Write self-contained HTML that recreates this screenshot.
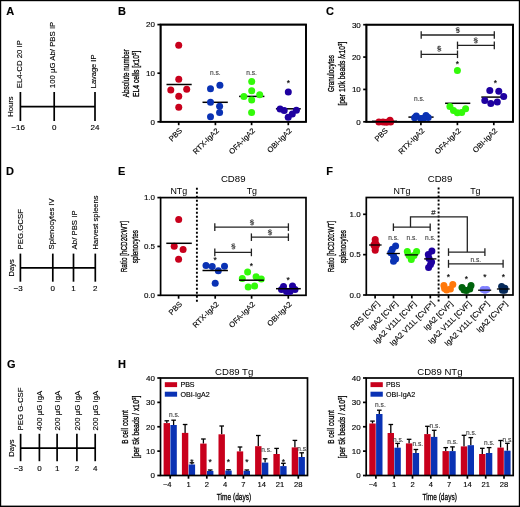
<!DOCTYPE html>
<html><head><meta charset="utf-8"><style>
html,body{margin:0;padding:0;background:#fff;}
body{width:520px;height:507px;overflow:hidden;}
svg{display:block;font-family:"Liberation Sans", sans-serif;will-change:transform;}
text{stroke-width:0.14px;}
text.yl{stroke-width:0.3px;}
text.tt{stroke-width:0;}
</style></head><body>
<svg width="520" height="507" viewBox="0 0 520 507">
<rect x="0" y="0" width="520" height="507" fill="#fff"/>
<rect x="0" y="0" width="520" height="1.2" fill="#000"/>
<rect x="0" y="0" width="1.2" height="507" fill="#000"/>
<rect x="518.8" y="0" width="1.2" height="507" fill="#000"/>
<rect x="0" y="505.6" width="520" height="1.4" fill="#000"/>
<text transform="translate(6.2,14.8)" font-size="11" text-anchor="start" font-weight="bold" fill="#000" stroke="#000">A</text>
<line x1="20.4" y1="106.6" x2="95" y2="106.6" stroke="#000" stroke-width="1.7"/>
<line x1="20.4" y1="92" x2="20.4" y2="121" stroke="#000" stroke-width="1.7"/>
<line x1="54.2" y1="92" x2="54.2" y2="121" stroke="#000" stroke-width="1.7"/>
<line x1="95" y1="92" x2="95" y2="121" stroke="#000" stroke-width="1.7"/>
<text transform="translate(20.4,129.6)" font-size="8" text-anchor="middle" font-weight="normal" fill="#000" stroke="#000">16</text>
<text transform="translate(16.15,129.6)" font-size="8" text-anchor="end" font-weight="normal" fill="#000" stroke="#000">−</text>
<text transform="translate(54.2,129.6)" font-size="8" text-anchor="middle" font-weight="normal" fill="#000" stroke="#000">0</text>
<text transform="translate(95,129.6)" font-size="8" text-anchor="middle" font-weight="normal" fill="#000" stroke="#000">24</text>
<text transform="translate(22.2,88.2) rotate(-90)" font-size="7.8" text-anchor="start" font-weight="normal" fill="#000" stroke="#000">EL4-CD 20 IP</text>
<text transform="translate(55.2,88.2) rotate(-90)" font-size="7.8" text-anchor="start" font-weight="normal" fill="#000" stroke="#000">100 µG Ab/ PBS IP</text>
<text transform="translate(96.2,88.2) rotate(-90)" font-size="7.8" text-anchor="start" font-weight="normal" fill="#000" stroke="#000" textLength="33.6" lengthAdjust="spacingAndGlyphs">Lavage IP</text>
<text transform="translate(13.2,106.6) rotate(-90)" font-size="7.6" text-anchor="middle" font-weight="normal" fill="#000" stroke="#000">Hours</text>
<text transform="translate(6,174.7)" font-size="11" text-anchor="start" font-weight="bold" fill="#000" stroke="#000">D</text>
<line x1="20.4" y1="267.8" x2="95.3" y2="267.8" stroke="#000" stroke-width="1.7"/>
<line x1="20.4" y1="253.6" x2="20.4" y2="281.7" stroke="#000" stroke-width="1.7"/>
<line x1="52.8" y1="253.6" x2="52.8" y2="281.7" stroke="#000" stroke-width="1.7"/>
<line x1="73.5" y1="253.6" x2="73.5" y2="281.7" stroke="#000" stroke-width="1.7"/>
<line x1="95.3" y1="253.6" x2="95.3" y2="281.7" stroke="#000" stroke-width="1.7"/>
<text transform="translate(20.4,290.8)" font-size="8" text-anchor="middle" font-weight="normal" fill="#000" stroke="#000">3</text>
<text transform="translate(18.38,290.8)" font-size="8" text-anchor="end" font-weight="normal" fill="#000" stroke="#000">−</text>
<text transform="translate(52.8,290.8)" font-size="8" text-anchor="middle" font-weight="normal" fill="#000" stroke="#000">0</text>
<text transform="translate(73.5,290.8)" font-size="8" text-anchor="middle" font-weight="normal" fill="#000" stroke="#000">1</text>
<text transform="translate(95.3,290.8)" font-size="8" text-anchor="middle" font-weight="normal" fill="#000" stroke="#000">2</text>
<text transform="translate(23,249.4) rotate(-90)" font-size="7.8" text-anchor="start" font-weight="normal" fill="#000" stroke="#000">PEG.GCSF</text>
<text transform="translate(54.3,249.4) rotate(-90)" font-size="7.8" text-anchor="start" font-weight="normal" fill="#000" stroke="#000" textLength="51" lengthAdjust="spacingAndGlyphs">Splenocytes IV</text>
<text transform="translate(76.6,249.4) rotate(-90)" font-size="7.8" text-anchor="start" font-weight="normal" fill="#000" stroke="#000">Ab/ PBS IP</text>
<text transform="translate(97.6,249.4) rotate(-90)" font-size="7.8" text-anchor="start" font-weight="normal" fill="#000" stroke="#000" textLength="53.8" lengthAdjust="spacingAndGlyphs">Harvest spleens</text>
<text transform="translate(13.6,267.8) rotate(-90)" font-size="7.6" text-anchor="middle" font-weight="normal" fill="#000" stroke="#000">Days</text>
<text transform="translate(6.9,368.3)" font-size="11" text-anchor="start" font-weight="bold" fill="#000" stroke="#000">G</text>
<line x1="20.6" y1="448.1" x2="95.2" y2="448.1" stroke="#000" stroke-width="1.7"/>
<line x1="20.6" y1="433.8" x2="20.6" y2="461.2" stroke="#000" stroke-width="1.7"/>
<line x1="39.4" y1="433.8" x2="39.4" y2="461.2" stroke="#000" stroke-width="1.7"/>
<line x1="57.1" y1="433.8" x2="57.1" y2="461.2" stroke="#000" stroke-width="1.7"/>
<line x1="76.9" y1="433.8" x2="76.9" y2="461.2" stroke="#000" stroke-width="1.7"/>
<line x1="95.2" y1="433.8" x2="95.2" y2="461.2" stroke="#000" stroke-width="1.7"/>
<text transform="translate(20.6,471.3)" font-size="8" text-anchor="middle" font-weight="normal" fill="#000" stroke="#000">3</text>
<text transform="translate(18.58,471.3)" font-size="8" text-anchor="end" font-weight="normal" fill="#000" stroke="#000">−</text>
<text transform="translate(39.4,471.3)" font-size="8" text-anchor="middle" font-weight="normal" fill="#000" stroke="#000">0</text>
<text transform="translate(57.1,471.3)" font-size="8" text-anchor="middle" font-weight="normal" fill="#000" stroke="#000">1</text>
<text transform="translate(76.9,471.3)" font-size="8" text-anchor="middle" font-weight="normal" fill="#000" stroke="#000">2</text>
<text transform="translate(95.2,471.3)" font-size="8" text-anchor="middle" font-weight="normal" fill="#000" stroke="#000">4</text>
<text transform="translate(23.4,430.4) rotate(-90)" font-size="7.8" text-anchor="start" font-weight="normal" fill="#000" stroke="#000">PEG G-CSF</text>
<text transform="translate(42,430.4) rotate(-90)" font-size="7.8" text-anchor="start" font-weight="normal" fill="#000" stroke="#000">400 µG IgA</text>
<text transform="translate(59.8,430.4) rotate(-90)" font-size="7.8" text-anchor="start" font-weight="normal" fill="#000" stroke="#000">200 µG IgA</text>
<text transform="translate(79.5,430.4) rotate(-90)" font-size="7.8" text-anchor="start" font-weight="normal" fill="#000" stroke="#000">200 µG IgA</text>
<text transform="translate(97.8,430.4) rotate(-90)" font-size="7.8" text-anchor="start" font-weight="normal" fill="#000" stroke="#000">200 µG IgA</text>
<text transform="translate(14.2,448.1) rotate(-90)" font-size="7.6" text-anchor="middle" font-weight="normal" fill="#000" stroke="#000">Days</text>
<text transform="translate(118.1,14.8)" font-size="11" text-anchor="start" font-weight="bold" fill="#000" stroke="#000">B</text>
<rect x="160.6" y="24.6" width="145.4" height="97.2" fill="none" stroke="#000" stroke-width="1.7"/>
<line x1="157.4" y1="24.6" x2="160.6" y2="24.6" stroke="#000" stroke-width="1.7"/>
<text transform="translate(155,27.4)" font-size="8" text-anchor="end" font-weight="normal" fill="#000" stroke="#000">20</text>
<line x1="157.4" y1="73.2" x2="160.6" y2="73.2" stroke="#000" stroke-width="1.7"/>
<text transform="translate(155,76)" font-size="8" text-anchor="end" font-weight="normal" fill="#000" stroke="#000">10</text>
<line x1="157.4" y1="121.8" x2="160.6" y2="121.8" stroke="#000" stroke-width="1.7"/>
<text transform="translate(155,124.6)" font-size="8" text-anchor="end" font-weight="normal" fill="#000" stroke="#000">0</text>
<line x1="178.7" y1="121.8" x2="178.7" y2="125.2" stroke="#000" stroke-width="1.7"/>
<text transform="translate(182.7,131.2) rotate(-45)" font-size="7.6" text-anchor="end" font-weight="normal" fill="#000" stroke="#000">PBS</text>
<line x1="215.4" y1="121.8" x2="215.4" y2="125.2" stroke="#000" stroke-width="1.7"/>
<text transform="translate(219.4,131.2) rotate(-45)" font-size="7.6" text-anchor="end" font-weight="normal" fill="#000" stroke="#000">RTX-IgA2</text>
<line x1="251.6" y1="121.8" x2="251.6" y2="125.2" stroke="#000" stroke-width="1.7"/>
<text transform="translate(255.6,131.2) rotate(-45)" font-size="7.6" text-anchor="end" font-weight="normal" fill="#000" stroke="#000">OFA-IgA2</text>
<line x1="288.3" y1="121.8" x2="288.3" y2="125.2" stroke="#000" stroke-width="1.7"/>
<text transform="translate(292.3,131.2) rotate(-45)" font-size="7.6" text-anchor="end" font-weight="normal" fill="#000" stroke="#000">OBI-IgA2</text>
<text transform="translate(128.8,73.15) rotate(-90)" font-size="9.2" text-anchor="middle" font-weight="normal" fill="#000" stroke="#000" textLength="48" lengthAdjust="spacingAndGlyphs" class="yl">Absolute number</text>
<text transform="translate(139.3,73.8) rotate(-90)" font-size="9.2" text-anchor="middle" font-weight="normal" fill="#000" stroke="#000" textLength="46.4" lengthAdjust="spacingAndGlyphs" class="yl">EL4 cells [x10<tspan font-size="6" dy="-3">5</tspan><tspan dy="3">]</tspan></text>
<line x1="166.5" y1="84.5" x2="191.7" y2="84.5" stroke="#000" stroke-width="1.5"/>
<circle cx="178.7" cy="45.3" r="3.5" fill="#c8001c"/>
<circle cx="178.75" cy="79.2" r="3.5" fill="#c8001c"/>
<circle cx="170.8" cy="89.9" r="3.5" fill="#c8001c"/>
<circle cx="186.7" cy="89.3" r="3.5" fill="#c8001c"/>
<circle cx="178.75" cy="96.3" r="3.5" fill="#c8001c"/>
<circle cx="178.75" cy="107.2" r="3.5" fill="#c8001c"/>
<line x1="202.5" y1="102.3" x2="227.8" y2="102.3" stroke="#000" stroke-width="1.5"/>
<circle cx="219.9" cy="85.2" r="3.5" fill="#0a32b4"/>
<circle cx="210.5" cy="88.8" r="3.5" fill="#0a32b4"/>
<circle cx="210.5" cy="102.3" r="3.5" fill="#0a32b4"/>
<circle cx="219.6" cy="106.2" r="3.5" fill="#0a32b4"/>
<circle cx="219.6" cy="112.6" r="3.5" fill="#0a32b4"/>
<circle cx="210.5" cy="116.7" r="3.5" fill="#0a32b4"/>
<text transform="translate(215.3,75.2)" font-size="6.6" text-anchor="middle" font-weight="normal" fill="#444" stroke="#444">n.s.</text>
<line x1="239.1" y1="96.4" x2="264.4" y2="96.4" stroke="#000" stroke-width="1.5"/>
<circle cx="251.7" cy="81.6" r="3.5" fill="#33fa0a"/>
<circle cx="251.7" cy="90.8" r="3.5" fill="#33fa0a"/>
<circle cx="243.9" cy="96.6" r="3.5" fill="#33fa0a"/>
<circle cx="259.7" cy="94.8" r="3.5" fill="#33fa0a"/>
<circle cx="251.7" cy="100" r="3.5" fill="#33fa0a"/>
<circle cx="251.6" cy="112.5" r="3.5" fill="#33fa0a"/>
<text transform="translate(251.6,75.2)" font-size="6.6" text-anchor="middle" font-weight="normal" fill="#444" stroke="#444">n.s.</text>
<line x1="275.9" y1="108.8" x2="300.8" y2="108.8" stroke="#000" stroke-width="1.5"/>
<circle cx="288.3" cy="91.9" r="3.5" fill="#1e00a0"/>
<circle cx="280.1" cy="109.1" r="3.5" fill="#1e00a0"/>
<circle cx="284.2" cy="110.6" r="3.5" fill="#1e00a0"/>
<circle cx="296.4" cy="110.2" r="3.5" fill="#1e00a0"/>
<circle cx="292.3" cy="113.9" r="3.5" fill="#1e00a0"/>
<circle cx="288.2" cy="117.3" r="3.5" fill="#1e00a0"/>
<text transform="translate(288.3,86.42)" font-size="8.5" text-anchor="middle" font-weight="normal" fill="#000" stroke="#000">*</text>
<rect x="160.6" y="24.6" width="145.4" height="97.2" fill="none" stroke="#000" stroke-width="1.7"/>
<text transform="translate(326,14.8)" font-size="11" text-anchor="start" font-weight="bold" fill="#000" stroke="#000">C</text>
<rect x="366.4" y="24.7" width="146.6" height="97.1" fill="none" stroke="#000" stroke-width="1.7"/>
<line x1="363.2" y1="24.7" x2="366.4" y2="24.7" stroke="#000" stroke-width="1.7"/>
<text transform="translate(360.8,27.5)" font-size="8" text-anchor="end" font-weight="normal" fill="#000" stroke="#000">30</text>
<line x1="363.2" y1="57.07" x2="366.4" y2="57.07" stroke="#000" stroke-width="1.7"/>
<text transform="translate(360.8,59.87)" font-size="8" text-anchor="end" font-weight="normal" fill="#000" stroke="#000">20</text>
<line x1="363.2" y1="89.43" x2="366.4" y2="89.43" stroke="#000" stroke-width="1.7"/>
<text transform="translate(360.8,92.23)" font-size="8" text-anchor="end" font-weight="normal" fill="#000" stroke="#000">10</text>
<line x1="363.2" y1="121.8" x2="366.4" y2="121.8" stroke="#000" stroke-width="1.7"/>
<text transform="translate(360.8,124.6)" font-size="8" text-anchor="end" font-weight="normal" fill="#000" stroke="#000">0</text>
<line x1="384.4" y1="121.8" x2="384.4" y2="125.2" stroke="#000" stroke-width="1.7"/>
<text transform="translate(388.4,131.2) rotate(-45)" font-size="7.6" text-anchor="end" font-weight="normal" fill="#000" stroke="#000">PBS</text>
<line x1="420.9" y1="121.8" x2="420.9" y2="125.2" stroke="#000" stroke-width="1.7"/>
<text transform="translate(424.9,131.2) rotate(-45)" font-size="7.6" text-anchor="end" font-weight="normal" fill="#000" stroke="#000">RTX-IgA2</text>
<line x1="457.4" y1="121.8" x2="457.4" y2="125.2" stroke="#000" stroke-width="1.7"/>
<text transform="translate(461.4,131.2) rotate(-45)" font-size="7.6" text-anchor="end" font-weight="normal" fill="#000" stroke="#000">OFA-IgA2</text>
<line x1="493.8" y1="121.8" x2="493.8" y2="125.2" stroke="#000" stroke-width="1.7"/>
<text transform="translate(497.8,131.2) rotate(-45)" font-size="7.6" text-anchor="end" font-weight="normal" fill="#000" stroke="#000">OBI-IgA2</text>
<text transform="translate(333.8,73.6) rotate(-90)" font-size="9.2" text-anchor="middle" font-weight="normal" fill="#000" stroke="#000" textLength="37" lengthAdjust="spacingAndGlyphs" class="yl">Granulocytes</text>
<text transform="translate(345.2,73.6) rotate(-90)" font-size="9.2" text-anchor="middle" font-weight="normal" fill="#000" stroke="#000" textLength="64" lengthAdjust="spacingAndGlyphs" class="yl">[per 10k beads /x10<tspan font-size="6" dy="-3">3</tspan><tspan dy="3">]</tspan></text>
<line x1="372" y1="121.3" x2="397" y2="121.3" stroke="#000" stroke-width="1.5"/>
<circle cx="378.9" cy="122.1" r="3.5" fill="#c8001c"/>
<circle cx="383" cy="122.1" r="3.5" fill="#c8001c"/>
<circle cx="386.5" cy="122.3" r="3.5" fill="#c8001c"/>
<circle cx="390" cy="120.3" r="3.5" fill="#c8001c"/>
<circle cx="390.6" cy="122" r="3.5" fill="#c8001c"/>
<line x1="408.4" y1="117.1" x2="433.6" y2="117.1" stroke="#000" stroke-width="1.5"/>
<circle cx="416.3" cy="115.9" r="3.5" fill="#0a32b4"/>
<circle cx="426" cy="115.5" r="3.5" fill="#0a32b4"/>
<circle cx="420.8" cy="118.6" r="3.5" fill="#0a32b4"/>
<circle cx="414.6" cy="117.8" r="3.5" fill="#0a32b4"/>
<circle cx="428.2" cy="117.6" r="3.5" fill="#0a32b4"/>
<circle cx="423.5" cy="118.2" r="3.5" fill="#0a32b4"/>
<text transform="translate(419.3,100.6)" font-size="6.6" text-anchor="middle" font-weight="normal" fill="#444" stroke="#444">n.s.</text>
<line x1="445.1" y1="103.3" x2="470.3" y2="103.3" stroke="#000" stroke-width="1.5"/>
<circle cx="457.4" cy="70.4" r="3.5" fill="#33fa0a"/>
<circle cx="449.9" cy="106.6" r="3.5" fill="#33fa0a"/>
<circle cx="453.5" cy="110.5" r="3.5" fill="#33fa0a"/>
<circle cx="457.4" cy="112.7" r="3.5" fill="#33fa0a"/>
<circle cx="461.7" cy="112.4" r="3.5" fill="#33fa0a"/>
<circle cx="465.6" cy="108.7" r="3.5" fill="#33fa0a"/>
<text transform="translate(457.4,67.32)" font-size="8.5" text-anchor="middle" font-weight="normal" fill="#000" stroke="#000">*</text>
<line x1="481.3" y1="97.1" x2="506.3" y2="97.1" stroke="#000" stroke-width="1.5"/>
<circle cx="489.8" cy="90.6" r="3.5" fill="#1e00a0"/>
<circle cx="498.8" cy="91.3" r="3.5" fill="#1e00a0"/>
<circle cx="503.7" cy="96.5" r="3.5" fill="#1e00a0"/>
<circle cx="484.8" cy="100.4" r="3.5" fill="#1e00a0"/>
<circle cx="490.8" cy="103.6" r="3.5" fill="#1e00a0"/>
<circle cx="497.3" cy="101.9" r="3.5" fill="#1e00a0"/>
<text transform="translate(495.3,86.42)" font-size="8.5" text-anchor="middle" font-weight="normal" fill="#000" stroke="#000">*</text>
<line x1="421.2" y1="35" x2="494.3" y2="35" stroke="#222" stroke-width="1.3"/>
<line x1="421.2" y1="31.2" x2="421.2" y2="38.8" stroke="#222" stroke-width="1.3"/>
<line x1="494.3" y1="31.2" x2="494.3" y2="38.8" stroke="#222" stroke-width="1.3"/>
<line x1="457.5" y1="45.4" x2="494.3" y2="45.4" stroke="#222" stroke-width="1.3"/>
<line x1="457.5" y1="41.6" x2="457.5" y2="49.2" stroke="#222" stroke-width="1.3"/>
<line x1="494.3" y1="41.6" x2="494.3" y2="49.2" stroke="#222" stroke-width="1.3"/>
<line x1="421.2" y1="54.3" x2="457.5" y2="54.3" stroke="#222" stroke-width="1.3"/>
<line x1="421.2" y1="50.5" x2="421.2" y2="58.1" stroke="#222" stroke-width="1.3"/>
<line x1="457.5" y1="50.5" x2="457.5" y2="58.1" stroke="#222" stroke-width="1.3"/>
<g transform="translate(455.17,27.35) scale(1.12,0.9)" fill="none" stroke="#222" stroke-width="0.85"><path d="M3.8,0.9 C3.4,0.2 1.0,0.0 0.9,1.2 C0.9,1.9 1.6,2.1 2.3,2.3"/><ellipse cx="2.35" cy="3.05" rx="1.45" ry="0.85"/><path d="M2.4,3.8 C3.1,4.0 3.8,4.2 3.8,4.9 C3.7,6.1 1.3,5.9 0.9,5.2"/></g>
<g transform="translate(473.17,37.7) scale(1.12,0.9)" fill="none" stroke="#222" stroke-width="0.85"><path d="M3.8,0.9 C3.4,0.2 1.0,0.0 0.9,1.2 C0.9,1.9 1.6,2.1 2.3,2.3"/><ellipse cx="2.35" cy="3.05" rx="1.45" ry="0.85"/><path d="M2.4,3.8 C3.1,4.0 3.8,4.2 3.8,4.9 C3.7,6.1 1.3,5.9 0.9,5.2"/></g>
<g transform="translate(436.57,45.95) scale(1.12,0.9)" fill="none" stroke="#222" stroke-width="0.85"><path d="M3.8,0.9 C3.4,0.2 1.0,0.0 0.9,1.2 C0.9,1.9 1.6,2.1 2.3,2.3"/><ellipse cx="2.35" cy="3.05" rx="1.45" ry="0.85"/><path d="M2.4,3.8 C3.1,4.0 3.8,4.2 3.8,4.9 C3.7,6.1 1.3,5.9 0.9,5.2"/></g>
<rect x="366.4" y="24.7" width="146.6" height="97.1" fill="none" stroke="#000" stroke-width="1.7"/>
<text transform="translate(118.1,174.7)" font-size="11" text-anchor="start" font-weight="bold" fill="#000" stroke="#000">E</text>
<text transform="translate(233.2,182)" font-size="9.4" text-anchor="middle" font-weight="normal" fill="#000" stroke="#000" textLength="24.6" lengthAdjust="spacingAndGlyphs" class="tt">CD89</text>
<text transform="translate(178.8,193.9)" font-size="8.9" text-anchor="middle" font-weight="normal" fill="#000" stroke="#000" class="tt">NTg</text>
<text transform="translate(251.8,193.9)" font-size="8.9" text-anchor="middle" font-weight="normal" fill="#000" stroke="#000" class="tt">Tg</text>
<rect x="160.6" y="197.6" width="145.4" height="97.7" fill="none" stroke="#000" stroke-width="1.7"/>
<line x1="157.4" y1="197.6" x2="160.6" y2="197.6" stroke="#000" stroke-width="1.7"/>
<text transform="translate(155,200.4)" font-size="8" text-anchor="end" font-weight="normal" fill="#000" stroke="#000">1.0</text>
<line x1="157.4" y1="246.45" x2="160.6" y2="246.45" stroke="#000" stroke-width="1.7"/>
<text transform="translate(155,249.25)" font-size="8" text-anchor="end" font-weight="normal" fill="#000" stroke="#000">0.5</text>
<line x1="157.4" y1="295.3" x2="160.6" y2="295.3" stroke="#000" stroke-width="1.7"/>
<text transform="translate(155,298.1)" font-size="8" text-anchor="end" font-weight="normal" fill="#000" stroke="#000">0.0</text>
<line x1="178.6" y1="295.3" x2="178.6" y2="298.7" stroke="#000" stroke-width="1.7"/>
<text transform="translate(182.6,304.7) rotate(-45)" font-size="7.6" text-anchor="end" font-weight="normal" fill="#000" stroke="#000">PBS</text>
<line x1="215.2" y1="295.3" x2="215.2" y2="298.7" stroke="#000" stroke-width="1.7"/>
<text transform="translate(219.2,304.7) rotate(-45)" font-size="7.6" text-anchor="end" font-weight="normal" fill="#000" stroke="#000">RTX-IgA2</text>
<line x1="251.6" y1="295.3" x2="251.6" y2="298.7" stroke="#000" stroke-width="1.7"/>
<text transform="translate(255.6,304.7) rotate(-45)" font-size="7.6" text-anchor="end" font-weight="normal" fill="#000" stroke="#000">OFA-IgA2</text>
<line x1="288.3" y1="295.3" x2="288.3" y2="298.7" stroke="#000" stroke-width="1.7"/>
<text transform="translate(292.3,304.7) rotate(-45)" font-size="7.6" text-anchor="end" font-weight="normal" fill="#000" stroke="#000">OBI-IgA2</text>
<line x1="196.9" y1="187.7" x2="196.9" y2="302.2" stroke="#000" stroke-width="1.9" stroke-dasharray="2 2"/>
<text transform="translate(127.2,246.6) rotate(-90)" font-size="9.2" text-anchor="middle" font-weight="normal" fill="#000" stroke="#000" textLength="51.3" lengthAdjust="spacingAndGlyphs" class="yl">Ratio [hCD20:WT]</text>
<text transform="translate(137.6,246.6) rotate(-90)" font-size="9.2" text-anchor="middle" font-weight="normal" fill="#000" stroke="#000" textLength="33.1" lengthAdjust="spacingAndGlyphs" class="yl">splenocytes</text>
<circle cx="178.7" cy="219.5" r="3.5" fill="#c8001c"/>
<circle cx="174.2" cy="246.2" r="3.5" fill="#c8001c"/>
<circle cx="183.1" cy="249.6" r="3.5" fill="#c8001c"/>
<circle cx="178.6" cy="259.3" r="3.5" fill="#c8001c"/>
<line x1="166.3" y1="243.3" x2="191.8" y2="243.3" stroke="#000" stroke-width="1.5"/>
<circle cx="206" cy="265.6" r="3.5" fill="#0a32b4"/>
<circle cx="212.2" cy="266.6" r="3.5" fill="#0a32b4"/>
<circle cx="218.3" cy="270.7" r="3.5" fill="#0a32b4"/>
<circle cx="224.5" cy="266.2" r="3.5" fill="#0a32b4"/>
<circle cx="215.2" cy="283.2" r="3.5" fill="#0a32b4"/>
<line x1="202.5" y1="270.5" x2="227.9" y2="270.5" stroke="#000" stroke-width="1.5"/>
<text transform="translate(215.2,263.42)" font-size="8.5" text-anchor="middle" font-weight="normal" fill="#000" stroke="#000">*</text>
<circle cx="247.6" cy="272.1" r="3.5" fill="#33fa0a"/>
<circle cx="242.3" cy="278.5" r="3.5" fill="#33fa0a"/>
<circle cx="256.1" cy="276.8" r="3.5" fill="#33fa0a"/>
<circle cx="261.3" cy="278.9" r="3.5" fill="#33fa0a"/>
<circle cx="248.2" cy="286.9" r="3.5" fill="#33fa0a"/>
<circle cx="254.6" cy="285.9" r="3.5" fill="#33fa0a"/>
<line x1="239.1" y1="280.2" x2="263.9" y2="280.2" stroke="#000" stroke-width="1.5"/>
<text transform="translate(251.5,268.62)" font-size="8.5" text-anchor="middle" font-weight="normal" fill="#000" stroke="#000">*</text>
<circle cx="283.5" cy="286.5" r="3.5" fill="#1e00a0"/>
<circle cx="292.5" cy="286" r="3.5" fill="#1e00a0"/>
<circle cx="281.5" cy="289.5" r="3.5" fill="#1e00a0"/>
<circle cx="295" cy="289.5" r="3.5" fill="#1e00a0"/>
<circle cx="286.5" cy="291.5" r="3.5" fill="#1e00a0"/>
<circle cx="290" cy="291.5" r="3.5" fill="#1e00a0"/>
<line x1="276" y1="288.7" x2="300.8" y2="288.7" stroke="#000" stroke-width="1.5"/>
<text transform="translate(288.2,282.52)" font-size="8.5" text-anchor="middle" font-weight="normal" fill="#000" stroke="#000">*</text>
<line x1="214.8" y1="227.1" x2="288.4" y2="227.1" stroke="#222" stroke-width="1.3"/>
<line x1="214.8" y1="223.3" x2="214.8" y2="230.9" stroke="#222" stroke-width="1.3"/>
<line x1="288.4" y1="223.3" x2="288.4" y2="230.9" stroke="#222" stroke-width="1.3"/>
<line x1="251.4" y1="237.2" x2="288.4" y2="237.2" stroke="#222" stroke-width="1.3"/>
<line x1="251.4" y1="233.4" x2="251.4" y2="241" stroke="#222" stroke-width="1.3"/>
<line x1="288.4" y1="233.4" x2="288.4" y2="241" stroke="#222" stroke-width="1.3"/>
<line x1="214.8" y1="252.4" x2="251.4" y2="252.4" stroke="#222" stroke-width="1.3"/>
<line x1="214.8" y1="248.6" x2="214.8" y2="256.2" stroke="#222" stroke-width="1.3"/>
<line x1="251.4" y1="248.6" x2="251.4" y2="256.2" stroke="#222" stroke-width="1.3"/>
<g transform="translate(249.37,219.65) scale(1.12,0.9)" fill="none" stroke="#222" stroke-width="0.85"><path d="M3.8,0.9 C3.4,0.2 1.0,0.0 0.9,1.2 C0.9,1.9 1.6,2.1 2.3,2.3"/><ellipse cx="2.35" cy="3.05" rx="1.45" ry="0.85"/><path d="M2.4,3.8 C3.1,4.0 3.8,4.2 3.8,4.9 C3.7,6.1 1.3,5.9 0.9,5.2"/></g>
<g transform="translate(267.37,229.65) scale(1.12,0.9)" fill="none" stroke="#222" stroke-width="0.85"><path d="M3.8,0.9 C3.4,0.2 1.0,0.0 0.9,1.2 C0.9,1.9 1.6,2.1 2.3,2.3"/><ellipse cx="2.35" cy="3.05" rx="1.45" ry="0.85"/><path d="M2.4,3.8 C3.1,4.0 3.8,4.2 3.8,4.9 C3.7,6.1 1.3,5.9 0.9,5.2"/></g>
<g transform="translate(230.77,243.65) scale(1.12,0.9)" fill="none" stroke="#222" stroke-width="0.85"><path d="M3.8,0.9 C3.4,0.2 1.0,0.0 0.9,1.2 C0.9,1.9 1.6,2.1 2.3,2.3"/><ellipse cx="2.35" cy="3.05" rx="1.45" ry="0.85"/><path d="M2.4,3.8 C3.1,4.0 3.8,4.2 3.8,4.9 C3.7,6.1 1.3,5.9 0.9,5.2"/></g>
<text transform="translate(326.3,174.7)" font-size="11" text-anchor="start" font-weight="bold" fill="#000" stroke="#000">F</text>
<text transform="translate(440,182)" font-size="9.4" text-anchor="middle" font-weight="normal" fill="#000" stroke="#000" textLength="24.6" lengthAdjust="spacingAndGlyphs" class="tt">CD89</text>
<text transform="translate(402,193.9)" font-size="8.9" text-anchor="middle" font-weight="normal" fill="#000" stroke="#000" class="tt">NTg</text>
<text transform="translate(475.3,193.9)" font-size="8.9" text-anchor="middle" font-weight="normal" fill="#000" stroke="#000" class="tt">Tg</text>
<rect x="366.3" y="197.5" width="146.7" height="97.5" fill="none" stroke="#000" stroke-width="1.7"/>
<line x1="363.1" y1="214.3" x2="366.3" y2="214.3" stroke="#000" stroke-width="1.7"/>
<text transform="translate(360.7,217.1)" font-size="8" text-anchor="end" font-weight="normal" fill="#000" stroke="#000">1.0</text>
<line x1="363.1" y1="254.65" x2="366.3" y2="254.65" stroke="#000" stroke-width="1.7"/>
<text transform="translate(360.7,257.45)" font-size="8" text-anchor="end" font-weight="normal" fill="#000" stroke="#000">0.5</text>
<line x1="363.1" y1="295" x2="366.3" y2="295" stroke="#000" stroke-width="1.7"/>
<text transform="translate(360.7,297.8)" font-size="8" text-anchor="end" font-weight="normal" fill="#000" stroke="#000">0.0</text>
<line x1="375.1" y1="295" x2="375.1" y2="298.4" stroke="#000" stroke-width="1.7"/>
<text transform="translate(379.9,304.3) rotate(-45)" font-size="7.7" text-anchor="end" font-weight="normal" fill="#000" stroke="#000">PBS [CVF]</text>
<line x1="393.5" y1="295" x2="393.5" y2="298.4" stroke="#000" stroke-width="1.7"/>
<text transform="translate(398.3,304.3) rotate(-45)" font-size="7.7" text-anchor="end" font-weight="normal" fill="#000" stroke="#000">IgA2 [CVF]</text>
<line x1="411.8" y1="295" x2="411.8" y2="298.4" stroke="#000" stroke-width="1.7"/>
<text transform="translate(416.6,304.3) rotate(-45)" font-size="7.7" text-anchor="end" font-weight="normal" fill="#000" stroke="#000">IgA2 V11L [CVF]</text>
<line x1="430.3" y1="295" x2="430.3" y2="298.4" stroke="#000" stroke-width="1.7"/>
<text transform="translate(435.1,304.3) rotate(-45)" font-size="7.7" text-anchor="end" font-weight="normal" fill="#000" stroke="#000">IgA2 V11L [CVF*]</text>
<line x1="448.5" y1="295" x2="448.5" y2="298.4" stroke="#000" stroke-width="1.7"/>
<text transform="translate(453.3,304.3) rotate(-45)" font-size="7.7" text-anchor="end" font-weight="normal" fill="#000" stroke="#000">IgA2 [CVF]</text>
<line x1="466.6" y1="295" x2="466.6" y2="298.4" stroke="#000" stroke-width="1.7"/>
<text transform="translate(471.4,304.3) rotate(-45)" font-size="7.7" text-anchor="end" font-weight="normal" fill="#000" stroke="#000">IgA2 V11L [CVF]</text>
<line x1="485" y1="295" x2="485" y2="298.4" stroke="#000" stroke-width="1.7"/>
<text transform="translate(489.8,304.3) rotate(-45)" font-size="7.7" text-anchor="end" font-weight="normal" fill="#000" stroke="#000">IgA2 V11L [CVF*]</text>
<line x1="503.3" y1="295" x2="503.3" y2="298.4" stroke="#000" stroke-width="1.7"/>
<text transform="translate(508.1,304.3) rotate(-45)" font-size="7.7" text-anchor="end" font-weight="normal" fill="#000" stroke="#000">IgA2 [CVF*]</text>
<line x1="438.6" y1="187.6" x2="438.6" y2="302.2" stroke="#000" stroke-width="1.9" stroke-dasharray="2 2"/>
<text transform="translate(333.9,246.6) rotate(-90)" font-size="9.2" text-anchor="middle" font-weight="normal" fill="#000" stroke="#000" textLength="51.3" lengthAdjust="spacingAndGlyphs" class="yl">Ratio [hCD20:WT]</text>
<text transform="translate(345.6,246.6) rotate(-90)" font-size="9.2" text-anchor="middle" font-weight="normal" fill="#000" stroke="#000" textLength="33.1" lengthAdjust="spacingAndGlyphs" class="yl">splenocytes</text>
<circle cx="375.2" cy="239.5" r="3.5" fill="#c8001c"/>
<circle cx="375.2" cy="242.5" r="3.5" fill="#c8001c"/>
<circle cx="373.9" cy="245" r="3.5" fill="#c8001c"/>
<circle cx="376.5" cy="245" r="3.5" fill="#c8001c"/>
<circle cx="375.2" cy="248" r="3.5" fill="#c8001c"/>
<circle cx="375.2" cy="250.3" r="3.5" fill="#c8001c"/>
<line x1="369" y1="245" x2="381.6" y2="245" stroke="#000" stroke-width="1.3"/>
<circle cx="395.6" cy="246" r="3.5" fill="#0a32b4"/>
<circle cx="392.3" cy="249.3" r="3.5" fill="#0a32b4"/>
<circle cx="390.8" cy="252.8" r="3.5" fill="#0a32b4"/>
<circle cx="393.6" cy="256" r="3.5" fill="#0a32b4"/>
<circle cx="395.6" cy="259" r="3.5" fill="#0a32b4"/>
<circle cx="393.5" cy="261.2" r="3.5" fill="#0a32b4"/>
<line x1="386.6" y1="253.5" x2="399.9" y2="253.5" stroke="#000" stroke-width="1.3"/>
<circle cx="407.3" cy="251.6" r="3.5" fill="#33fa0a"/>
<circle cx="416.6" cy="251.6" r="3.5" fill="#33fa0a"/>
<circle cx="411.3" cy="259.5" r="3.5" fill="#33fa0a"/>
<circle cx="409" cy="255.5" r="3.5" fill="#33fa0a"/>
<circle cx="414" cy="255.5" r="3.5" fill="#33fa0a"/>
<line x1="404.7" y1="254.9" x2="418.1" y2="254.9" stroke="#000" stroke-width="1.3"/>
<circle cx="431.9" cy="251" r="3.5" fill="#1e00a0"/>
<circle cx="428.3" cy="254.5" r="3.5" fill="#1e00a0"/>
<circle cx="429" cy="258.5" r="3.5" fill="#1e00a0"/>
<circle cx="431.6" cy="262" r="3.5" fill="#1e00a0"/>
<circle cx="428.6" cy="267.5" r="3.5" fill="#1e00a0"/>
<circle cx="430.5" cy="264.5" r="3.5" fill="#1e00a0"/>
<line x1="424.1" y1="258.9" x2="436.4" y2="258.9" stroke="#000" stroke-width="1.3"/>
<text transform="translate(393.5,240.4)" font-size="6.6" text-anchor="middle" font-weight="normal" fill="#444" stroke="#444">n.s.</text>
<text transform="translate(411.8,240.4)" font-size="6.6" text-anchor="middle" font-weight="normal" fill="#444" stroke="#444">n.s.</text>
<text transform="translate(430.3,240.4)" font-size="6.6" text-anchor="middle" font-weight="normal" fill="#444" stroke="#444">n.s.</text>
<circle cx="443.9" cy="285.6" r="3.5" fill="#ff780a"/>
<circle cx="452.8" cy="284.6" r="3.5" fill="#ff780a"/>
<circle cx="446.6" cy="290" r="3.5" fill="#ff780a"/>
<circle cx="450.4" cy="289" r="3.5" fill="#ff780a"/>
<circle cx="444.6" cy="288.6" r="3.5" fill="#ff780a"/>
<circle cx="462" cy="287.6" r="3.5" fill="#00640c"/>
<circle cx="471" cy="285.6" r="3.5" fill="#00640c"/>
<circle cx="466.5" cy="290.4" r="3.5" fill="#00640c"/>
<circle cx="469.8" cy="289" r="3.5" fill="#00640c"/>
<circle cx="464" cy="290" r="3.5" fill="#00640c"/>
<circle cx="483.2" cy="289.6" r="3.5" fill="#8080ff"/>
<circle cx="486.8" cy="289.6" r="3.5" fill="#8080ff"/>
<circle cx="485" cy="290.3" r="3.5" fill="#8080ff"/>
<line x1="478.1" y1="290.2" x2="491.2" y2="290.2" stroke="#000" stroke-width="1.3"/>
<circle cx="501.6" cy="286.5" r="3.5" fill="#072a5a"/>
<circle cx="504.9" cy="288.2" r="3.5" fill="#072a5a"/>
<circle cx="502.5" cy="290.3" r="3.5" fill="#072a5a"/>
<circle cx="504.6" cy="290.3" r="3.5" fill="#072a5a"/>
<line x1="496.9" y1="289" x2="509.6" y2="289" stroke="#000" stroke-width="1.3"/>
<text transform="translate(448.4,279.52)" font-size="8.5" text-anchor="middle" font-weight="normal" fill="#000" stroke="#000">*</text>
<text transform="translate(466.4,281.52)" font-size="8.5" text-anchor="middle" font-weight="normal" fill="#000" stroke="#000">*</text>
<text transform="translate(484.9,280.22)" font-size="8.5" text-anchor="middle" font-weight="normal" fill="#000" stroke="#000">*</text>
<text transform="translate(503.3,280.22)" font-size="8.5" text-anchor="middle" font-weight="normal" fill="#000" stroke="#000">*</text>
<line x1="393.4" y1="227.2" x2="430.2" y2="227.2" stroke="#222" stroke-width="1.3"/>
<line x1="393.4" y1="223.4" x2="393.4" y2="231" stroke="#222" stroke-width="1.3"/>
<line x1="430.2" y1="223.4" x2="430.2" y2="231" stroke="#222" stroke-width="1.3"/>
<polyline points="410.5,227.2 410.5,216.8 467.3,216.8 467.3,252.1" fill="none" stroke="#222" stroke-width="1.3" stroke-linejoin="miter" stroke-linecap="butt"/>
<line x1="448.5" y1="252.1" x2="484.9" y2="252.1" stroke="#222" stroke-width="1.3"/>
<line x1="448.5" y1="248.3" x2="448.5" y2="255.9" stroke="#222" stroke-width="1.3"/>
<line x1="484.9" y1="248.3" x2="484.9" y2="255.9" stroke="#222" stroke-width="1.3"/>
<line x1="448.5" y1="263.8" x2="503.1" y2="263.8" stroke="#222" stroke-width="1.3"/>
<line x1="448.5" y1="259.8" x2="448.5" y2="267.8" stroke="#222" stroke-width="1.3"/>
<line x1="503.1" y1="259.8" x2="503.1" y2="267.8" stroke="#222" stroke-width="1.3"/>
<text transform="translate(475.7,261.6)" font-size="6.6" text-anchor="middle" font-weight="normal" fill="#444" stroke="#444">n.s.</text>
<text transform="translate(433.4,214.6)" font-size="7.8" text-anchor="middle" font-weight="normal" fill="#222" stroke="#222">#</text>
<text transform="translate(118.1,368.3)" font-size="11" text-anchor="start" font-weight="bold" fill="#000" stroke="#000">H</text>
<text transform="translate(234.2,375.2)" font-size="9.6" text-anchor="middle" font-weight="normal" fill="#000" stroke="#000" class="tt">CD89 Tg</text>
<line x1="166.8" y1="423.1" x2="166.8" y2="420.8" stroke="#000" stroke-width="1.3"/>
<line x1="164.5" y1="420.8" x2="169.1" y2="420.8" stroke="#000" stroke-width="1.3"/>
<line x1="173.6" y1="425" x2="173.6" y2="420.2" stroke="#000" stroke-width="1.3"/>
<line x1="171.3" y1="420.2" x2="175.9" y2="420.2" stroke="#000" stroke-width="1.3"/>
<rect x="163.6" y="423.1" width="6.4" height="52.4" fill="#c8001c"/>
<rect x="170.4" y="425" width="6.4" height="50.5" fill="#0a32b4"/>
<line x1="185.1" y1="432.9" x2="185.1" y2="424.5" stroke="#000" stroke-width="1.3"/>
<line x1="182.8" y1="424.5" x2="187.4" y2="424.5" stroke="#000" stroke-width="1.3"/>
<line x1="191.9" y1="464.5" x2="191.9" y2="462.8" stroke="#000" stroke-width="1.3"/>
<line x1="189.6" y1="462.8" x2="194.2" y2="462.8" stroke="#000" stroke-width="1.3"/>
<rect x="181.9" y="432.9" width="6.4" height="42.6" fill="#c8001c"/>
<rect x="188.7" y="464.5" width="6.4" height="11" fill="#0a32b4"/>
<line x1="203.4" y1="443.6" x2="203.4" y2="439" stroke="#000" stroke-width="1.3"/>
<line x1="201.1" y1="439" x2="205.7" y2="439" stroke="#000" stroke-width="1.3"/>
<line x1="210.2" y1="471" x2="210.2" y2="470" stroke="#000" stroke-width="1.3"/>
<line x1="207.9" y1="470" x2="212.5" y2="470" stroke="#000" stroke-width="1.3"/>
<rect x="200.2" y="443.6" width="6.4" height="31.9" fill="#c8001c"/>
<rect x="207" y="471" width="6.4" height="4.5" fill="#0a32b4"/>
<line x1="221.7" y1="434.3" x2="221.7" y2="426" stroke="#000" stroke-width="1.3"/>
<line x1="219.4" y1="426" x2="224" y2="426" stroke="#000" stroke-width="1.3"/>
<line x1="228.5" y1="470.6" x2="228.5" y2="469.8" stroke="#000" stroke-width="1.3"/>
<line x1="226.2" y1="469.8" x2="230.8" y2="469.8" stroke="#000" stroke-width="1.3"/>
<rect x="218.5" y="434.3" width="6.4" height="41.2" fill="#c8001c"/>
<rect x="225.3" y="470.6" width="6.4" height="4.9" fill="#0a32b4"/>
<line x1="240" y1="451.4" x2="240" y2="447" stroke="#000" stroke-width="1.3"/>
<line x1="237.7" y1="447" x2="242.3" y2="447" stroke="#000" stroke-width="1.3"/>
<line x1="246.8" y1="470.9" x2="246.8" y2="470" stroke="#000" stroke-width="1.3"/>
<line x1="244.5" y1="470" x2="249.1" y2="470" stroke="#000" stroke-width="1.3"/>
<rect x="236.8" y="451.4" width="6.4" height="24.1" fill="#c8001c"/>
<rect x="243.6" y="470.9" width="6.4" height="4.6" fill="#0a32b4"/>
<line x1="258.3" y1="446.2" x2="258.3" y2="435.5" stroke="#000" stroke-width="1.3"/>
<line x1="256" y1="435.5" x2="260.6" y2="435.5" stroke="#000" stroke-width="1.3"/>
<line x1="265.1" y1="462.6" x2="265.1" y2="458.8" stroke="#000" stroke-width="1.3"/>
<line x1="262.8" y1="458.8" x2="267.4" y2="458.8" stroke="#000" stroke-width="1.3"/>
<rect x="255.1" y="446.2" width="6.4" height="29.3" fill="#c8001c"/>
<rect x="261.9" y="462.6" width="6.4" height="12.9" fill="#0a32b4"/>
<line x1="276.6" y1="454" x2="276.6" y2="448.4" stroke="#000" stroke-width="1.3"/>
<line x1="274.3" y1="448.4" x2="278.9" y2="448.4" stroke="#000" stroke-width="1.3"/>
<line x1="283.4" y1="466.1" x2="283.4" y2="463.3" stroke="#000" stroke-width="1.3"/>
<line x1="281.1" y1="463.3" x2="285.7" y2="463.3" stroke="#000" stroke-width="1.3"/>
<rect x="273.4" y="454" width="6.4" height="21.5" fill="#c8001c"/>
<rect x="280.2" y="466.1" width="6.4" height="9.4" fill="#0a32b4"/>
<line x1="294.9" y1="447.4" x2="294.9" y2="440.4" stroke="#000" stroke-width="1.3"/>
<line x1="292.6" y1="440.4" x2="297.2" y2="440.4" stroke="#000" stroke-width="1.3"/>
<line x1="301.7" y1="457" x2="301.7" y2="452.8" stroke="#000" stroke-width="1.3"/>
<line x1="299.4" y1="452.8" x2="304" y2="452.8" stroke="#000" stroke-width="1.3"/>
<rect x="291.7" y="447.4" width="6.4" height="28.1" fill="#c8001c"/>
<rect x="298.5" y="457" width="6.4" height="18.5" fill="#0a32b4"/>
<rect x="160.5" y="378" width="147" height="97.5" fill="none" stroke="#000" stroke-width="1.7"/>
<line x1="157.3" y1="378" x2="160.5" y2="378" stroke="#000" stroke-width="1.7"/>
<text transform="translate(154.9,380.8)" font-size="8" text-anchor="end" font-weight="normal" fill="#000" stroke="#000">40</text>
<line x1="157.3" y1="402.38" x2="160.5" y2="402.38" stroke="#000" stroke-width="1.7"/>
<text transform="translate(154.9,405.18)" font-size="8" text-anchor="end" font-weight="normal" fill="#000" stroke="#000">30</text>
<line x1="157.3" y1="426.75" x2="160.5" y2="426.75" stroke="#000" stroke-width="1.7"/>
<text transform="translate(154.9,429.55)" font-size="8" text-anchor="end" font-weight="normal" fill="#000" stroke="#000">20</text>
<line x1="157.3" y1="451.12" x2="160.5" y2="451.12" stroke="#000" stroke-width="1.7"/>
<text transform="translate(154.9,453.93)" font-size="8" text-anchor="end" font-weight="normal" fill="#000" stroke="#000">10</text>
<line x1="157.3" y1="475.5" x2="160.5" y2="475.5" stroke="#000" stroke-width="1.7"/>
<text transform="translate(154.9,478.3)" font-size="8" text-anchor="end" font-weight="normal" fill="#000" stroke="#000">0</text>
<line x1="170.2" y1="475.5" x2="170.2" y2="478.7" stroke="#000" stroke-width="1.7"/>
<text transform="translate(169.4,487.3)" font-size="7.6" text-anchor="middle" font-weight="normal" fill="#000" stroke="#000">4</text>
<text transform="translate(167.49,487.3)" font-size="7.6" text-anchor="end" font-weight="normal" fill="#000" stroke="#000">−</text>
<line x1="188.5" y1="475.5" x2="188.5" y2="478.7" stroke="#000" stroke-width="1.7"/>
<text transform="translate(188.5,487.3)" font-size="7.6" text-anchor="middle" font-weight="normal" fill="#000" stroke="#000">1</text>
<line x1="206.8" y1="475.5" x2="206.8" y2="478.7" stroke="#000" stroke-width="1.7"/>
<text transform="translate(206.8,487.3)" font-size="7.6" text-anchor="middle" font-weight="normal" fill="#000" stroke="#000">2</text>
<line x1="225.1" y1="475.5" x2="225.1" y2="478.7" stroke="#000" stroke-width="1.7"/>
<text transform="translate(225.1,487.3)" font-size="7.6" text-anchor="middle" font-weight="normal" fill="#000" stroke="#000">4</text>
<line x1="243.4" y1="475.5" x2="243.4" y2="478.7" stroke="#000" stroke-width="1.7"/>
<text transform="translate(243.4,487.3)" font-size="7.6" text-anchor="middle" font-weight="normal" fill="#000" stroke="#000">7</text>
<line x1="261.7" y1="475.5" x2="261.7" y2="478.7" stroke="#000" stroke-width="1.7"/>
<text transform="translate(261.7,487.3)" font-size="7.6" text-anchor="middle" font-weight="normal" fill="#000" stroke="#000">14</text>
<line x1="280" y1="475.5" x2="280" y2="478.7" stroke="#000" stroke-width="1.7"/>
<text transform="translate(280,487.3)" font-size="7.6" text-anchor="middle" font-weight="normal" fill="#000" stroke="#000">21</text>
<line x1="298.3" y1="475.5" x2="298.3" y2="478.7" stroke="#000" stroke-width="1.7"/>
<text transform="translate(298.3,487.3)" font-size="7.6" text-anchor="middle" font-weight="normal" fill="#000" stroke="#000">28</text>
<text transform="translate(234,499.8)" font-size="9.4" text-anchor="middle" font-weight="normal" fill="#000" stroke="#000" textLength="34.3" lengthAdjust="spacingAndGlyphs" class="yl">Time (days)</text>
<rect x="164.8" y="382.2" width="12.3" height="4.9" fill="#c8001c"/>
<rect x="164.8" y="391.7" width="12.3" height="5" fill="#0a32b4"/>
<text transform="translate(180.4,386.9)" font-size="7.1" text-anchor="start" font-weight="normal" fill="#000" stroke="#000">PBS</text>
<text transform="translate(180.4,396.5)" font-size="7.1" text-anchor="start" font-weight="normal" fill="#000" stroke="#000">OBI-IgA2</text>
<text transform="translate(127.8,427) rotate(-90)" font-size="9" text-anchor="middle" font-weight="normal" fill="#000" stroke="#000" textLength="33.7" lengthAdjust="spacingAndGlyphs" class="yl">B cell count</text>
<text transform="translate(139,427) rotate(-90)" font-size="9" text-anchor="middle" font-weight="normal" fill="#000" stroke="#000" textLength="63" lengthAdjust="spacingAndGlyphs" class="yl">[per 5k beads / x10<tspan font-size="6" dy="-3">3</tspan><tspan dy="3">]</tspan></text>
<text transform="translate(174.3,416.9)" font-size="6.6" text-anchor="middle" font-weight="normal" fill="#444" stroke="#444">n.s.</text>
<text transform="translate(266.5,451.7)" font-size="6.6" text-anchor="middle" font-weight="normal" fill="#444" stroke="#444">n.s.</text>
<text transform="translate(302.6,451.2)" font-size="6.6" text-anchor="middle" font-weight="normal" fill="#444" stroke="#444">n.s.</text>
<text transform="translate(191.9,464.62)" font-size="8.5" text-anchor="middle" font-weight="normal" fill="#000" stroke="#000">*</text>
<text transform="translate(210.2,464.62)" font-size="8.5" text-anchor="middle" font-weight="normal" fill="#000" stroke="#000">*</text>
<text transform="translate(228.5,464.62)" font-size="8.5" text-anchor="middle" font-weight="normal" fill="#000" stroke="#000">*</text>
<text transform="translate(246.8,464.62)" font-size="8.5" text-anchor="middle" font-weight="normal" fill="#000" stroke="#000">*</text>
<text transform="translate(283.4,464.62)" font-size="8.5" text-anchor="middle" font-weight="normal" fill="#000" stroke="#000">*</text>
<text transform="translate(439.9,375.2)" font-size="9.6" text-anchor="middle" font-weight="normal" fill="#000" stroke="#000" class="tt">CD89 NTg</text>
<line x1="372.5" y1="423.5" x2="372.5" y2="421.1" stroke="#000" stroke-width="1.3"/>
<line x1="370.2" y1="421.1" x2="374.8" y2="421.1" stroke="#000" stroke-width="1.3"/>
<line x1="379.3" y1="414" x2="379.3" y2="410.2" stroke="#000" stroke-width="1.3"/>
<line x1="377" y1="410.2" x2="381.6" y2="410.2" stroke="#000" stroke-width="1.3"/>
<rect x="369.3" y="423.5" width="6.4" height="52" fill="#c8001c"/>
<rect x="376.1" y="414" width="6.4" height="61.5" fill="#0a32b4"/>
<line x1="390.8" y1="433" x2="390.8" y2="424.5" stroke="#000" stroke-width="1.3"/>
<line x1="388.5" y1="424.5" x2="393.1" y2="424.5" stroke="#000" stroke-width="1.3"/>
<line x1="397.6" y1="447.7" x2="397.6" y2="443.4" stroke="#000" stroke-width="1.3"/>
<line x1="395.3" y1="443.4" x2="399.9" y2="443.4" stroke="#000" stroke-width="1.3"/>
<rect x="387.6" y="433" width="6.4" height="42.5" fill="#c8001c"/>
<rect x="394.4" y="447.7" width="6.4" height="27.8" fill="#0a32b4"/>
<line x1="409.1" y1="443.4" x2="409.1" y2="439.3" stroke="#000" stroke-width="1.3"/>
<line x1="406.8" y1="439.3" x2="411.4" y2="439.3" stroke="#000" stroke-width="1.3"/>
<line x1="415.9" y1="453" x2="415.9" y2="449.5" stroke="#000" stroke-width="1.3"/>
<line x1="413.6" y1="449.5" x2="418.2" y2="449.5" stroke="#000" stroke-width="1.3"/>
<rect x="405.9" y="443.4" width="6.4" height="32.1" fill="#c8001c"/>
<rect x="412.7" y="453" width="6.4" height="22.5" fill="#0a32b4"/>
<line x1="427.4" y1="434.1" x2="427.4" y2="426.3" stroke="#000" stroke-width="1.3"/>
<line x1="425.1" y1="426.3" x2="429.7" y2="426.3" stroke="#000" stroke-width="1.3"/>
<line x1="434.2" y1="436.9" x2="434.2" y2="430.3" stroke="#000" stroke-width="1.3"/>
<line x1="431.9" y1="430.3" x2="436.5" y2="430.3" stroke="#000" stroke-width="1.3"/>
<rect x="424.2" y="434.1" width="6.4" height="41.4" fill="#c8001c"/>
<rect x="431" y="436.9" width="6.4" height="38.6" fill="#0a32b4"/>
<line x1="445.7" y1="451.1" x2="445.7" y2="447.6" stroke="#000" stroke-width="1.3"/>
<line x1="443.4" y1="447.6" x2="448" y2="447.6" stroke="#000" stroke-width="1.3"/>
<line x1="452.5" y1="451.1" x2="452.5" y2="446.9" stroke="#000" stroke-width="1.3"/>
<line x1="450.2" y1="446.9" x2="454.8" y2="446.9" stroke="#000" stroke-width="1.3"/>
<rect x="442.5" y="451.1" width="6.4" height="24.4" fill="#c8001c"/>
<rect x="449.3" y="451.1" width="6.4" height="24.4" fill="#0a32b4"/>
<line x1="464" y1="446.4" x2="464" y2="435.3" stroke="#000" stroke-width="1.3"/>
<line x1="461.7" y1="435.3" x2="466.3" y2="435.3" stroke="#000" stroke-width="1.3"/>
<line x1="470.8" y1="445.2" x2="470.8" y2="437.6" stroke="#000" stroke-width="1.3"/>
<line x1="468.5" y1="437.6" x2="473.1" y2="437.6" stroke="#000" stroke-width="1.3"/>
<rect x="460.8" y="446.4" width="6.4" height="29.1" fill="#c8001c"/>
<rect x="467.6" y="445.2" width="6.4" height="30.3" fill="#0a32b4"/>
<line x1="482.3" y1="454" x2="482.3" y2="448.3" stroke="#000" stroke-width="1.3"/>
<line x1="480" y1="448.3" x2="484.6" y2="448.3" stroke="#000" stroke-width="1.3"/>
<line x1="489.1" y1="453" x2="489.1" y2="447.6" stroke="#000" stroke-width="1.3"/>
<line x1="486.8" y1="447.6" x2="491.4" y2="447.6" stroke="#000" stroke-width="1.3"/>
<rect x="479.1" y="454" width="6.4" height="21.5" fill="#c8001c"/>
<rect x="485.9" y="453" width="6.4" height="22.5" fill="#0a32b4"/>
<line x1="500.6" y1="447.6" x2="500.6" y2="440.5" stroke="#000" stroke-width="1.3"/>
<line x1="498.3" y1="440.5" x2="502.9" y2="440.5" stroke="#000" stroke-width="1.3"/>
<line x1="507.4" y1="450.7" x2="507.4" y2="443.3" stroke="#000" stroke-width="1.3"/>
<line x1="505.1" y1="443.3" x2="509.7" y2="443.3" stroke="#000" stroke-width="1.3"/>
<rect x="497.4" y="447.6" width="6.4" height="27.9" fill="#c8001c"/>
<rect x="504.2" y="450.7" width="6.4" height="24.8" fill="#0a32b4"/>
<rect x="366.2" y="378" width="147" height="97.5" fill="none" stroke="#000" stroke-width="1.7"/>
<line x1="363" y1="378" x2="366.2" y2="378" stroke="#000" stroke-width="1.7"/>
<text transform="translate(360.6,380.8)" font-size="8" text-anchor="end" font-weight="normal" fill="#000" stroke="#000">40</text>
<line x1="363" y1="402.38" x2="366.2" y2="402.38" stroke="#000" stroke-width="1.7"/>
<text transform="translate(360.6,405.18)" font-size="8" text-anchor="end" font-weight="normal" fill="#000" stroke="#000">30</text>
<line x1="363" y1="426.75" x2="366.2" y2="426.75" stroke="#000" stroke-width="1.7"/>
<text transform="translate(360.6,429.55)" font-size="8" text-anchor="end" font-weight="normal" fill="#000" stroke="#000">20</text>
<line x1="363" y1="451.12" x2="366.2" y2="451.12" stroke="#000" stroke-width="1.7"/>
<text transform="translate(360.6,453.93)" font-size="8" text-anchor="end" font-weight="normal" fill="#000" stroke="#000">10</text>
<line x1="363" y1="475.5" x2="366.2" y2="475.5" stroke="#000" stroke-width="1.7"/>
<text transform="translate(360.6,478.3)" font-size="8" text-anchor="end" font-weight="normal" fill="#000" stroke="#000">0</text>
<line x1="375.9" y1="475.5" x2="375.9" y2="478.7" stroke="#000" stroke-width="1.7"/>
<text transform="translate(375.1,487.3)" font-size="7.6" text-anchor="middle" font-weight="normal" fill="#000" stroke="#000">4</text>
<text transform="translate(373.19,487.3)" font-size="7.6" text-anchor="end" font-weight="normal" fill="#000" stroke="#000">−</text>
<line x1="394.2" y1="475.5" x2="394.2" y2="478.7" stroke="#000" stroke-width="1.7"/>
<text transform="translate(394.2,487.3)" font-size="7.6" text-anchor="middle" font-weight="normal" fill="#000" stroke="#000">1</text>
<line x1="412.5" y1="475.5" x2="412.5" y2="478.7" stroke="#000" stroke-width="1.7"/>
<text transform="translate(412.5,487.3)" font-size="7.6" text-anchor="middle" font-weight="normal" fill="#000" stroke="#000">2</text>
<line x1="430.8" y1="475.5" x2="430.8" y2="478.7" stroke="#000" stroke-width="1.7"/>
<text transform="translate(430.8,487.3)" font-size="7.6" text-anchor="middle" font-weight="normal" fill="#000" stroke="#000">4</text>
<line x1="449.1" y1="475.5" x2="449.1" y2="478.7" stroke="#000" stroke-width="1.7"/>
<text transform="translate(449.1,487.3)" font-size="7.6" text-anchor="middle" font-weight="normal" fill="#000" stroke="#000">7</text>
<line x1="467.4" y1="475.5" x2="467.4" y2="478.7" stroke="#000" stroke-width="1.7"/>
<text transform="translate(467.4,487.3)" font-size="7.6" text-anchor="middle" font-weight="normal" fill="#000" stroke="#000">14</text>
<line x1="485.7" y1="475.5" x2="485.7" y2="478.7" stroke="#000" stroke-width="1.7"/>
<text transform="translate(485.7,487.3)" font-size="7.6" text-anchor="middle" font-weight="normal" fill="#000" stroke="#000">21</text>
<line x1="504" y1="475.5" x2="504" y2="478.7" stroke="#000" stroke-width="1.7"/>
<text transform="translate(504,487.3)" font-size="7.6" text-anchor="middle" font-weight="normal" fill="#000" stroke="#000">28</text>
<text transform="translate(439.7,499.8)" font-size="9.4" text-anchor="middle" font-weight="normal" fill="#000" stroke="#000" textLength="34.3" lengthAdjust="spacingAndGlyphs" class="yl">Time (days)</text>
<rect x="370.5" y="382.2" width="12.3" height="4.9" fill="#c8001c"/>
<rect x="370.5" y="391.7" width="12.3" height="5" fill="#0a32b4"/>
<text transform="translate(386.1,386.9)" font-size="7.1" text-anchor="start" font-weight="normal" fill="#000" stroke="#000">PBS</text>
<text transform="translate(386.1,396.5)" font-size="7.1" text-anchor="start" font-weight="normal" fill="#000" stroke="#000">OBI-IgA2</text>
<text transform="translate(333.5,427) rotate(-90)" font-size="9" text-anchor="middle" font-weight="normal" fill="#000" stroke="#000" textLength="33.7" lengthAdjust="spacingAndGlyphs" class="yl">B cell count</text>
<text transform="translate(344.7,427) rotate(-90)" font-size="9" text-anchor="middle" font-weight="normal" fill="#000" stroke="#000" textLength="63" lengthAdjust="spacingAndGlyphs" class="yl">[per 5k beads / x10<tspan font-size="6" dy="-3">3</tspan><tspan dy="3">]</tspan></text>
<text transform="translate(380.4,406.9)" font-size="6.6" text-anchor="middle" font-weight="normal" fill="#444" stroke="#444">n.s.</text>
<text transform="translate(398.2,441.8)" font-size="6.6" text-anchor="middle" font-weight="normal" fill="#444" stroke="#444">n.s.</text>
<text transform="translate(417.7,446.4)" font-size="6.6" text-anchor="middle" font-weight="normal" fill="#444" stroke="#444">n.s.</text>
<text transform="translate(434.9,427.5)" font-size="6.6" text-anchor="middle" font-weight="normal" fill="#444" stroke="#444">n.s.</text>
<text transform="translate(452.6,444.1)" font-size="6.6" text-anchor="middle" font-weight="normal" fill="#444" stroke="#444">n.s.</text>
<text transform="translate(471.3,434.6)" font-size="6.6" text-anchor="middle" font-weight="normal" fill="#444" stroke="#444">n.s.</text>
<text transform="translate(489.3,444.8)" font-size="6.6" text-anchor="middle" font-weight="normal" fill="#444" stroke="#444">n.s.</text>
<text transform="translate(507.7,441.7)" font-size="6.6" text-anchor="middle" font-weight="normal" fill="#444" stroke="#444">n.s.</text>
</svg>
</body></html>
